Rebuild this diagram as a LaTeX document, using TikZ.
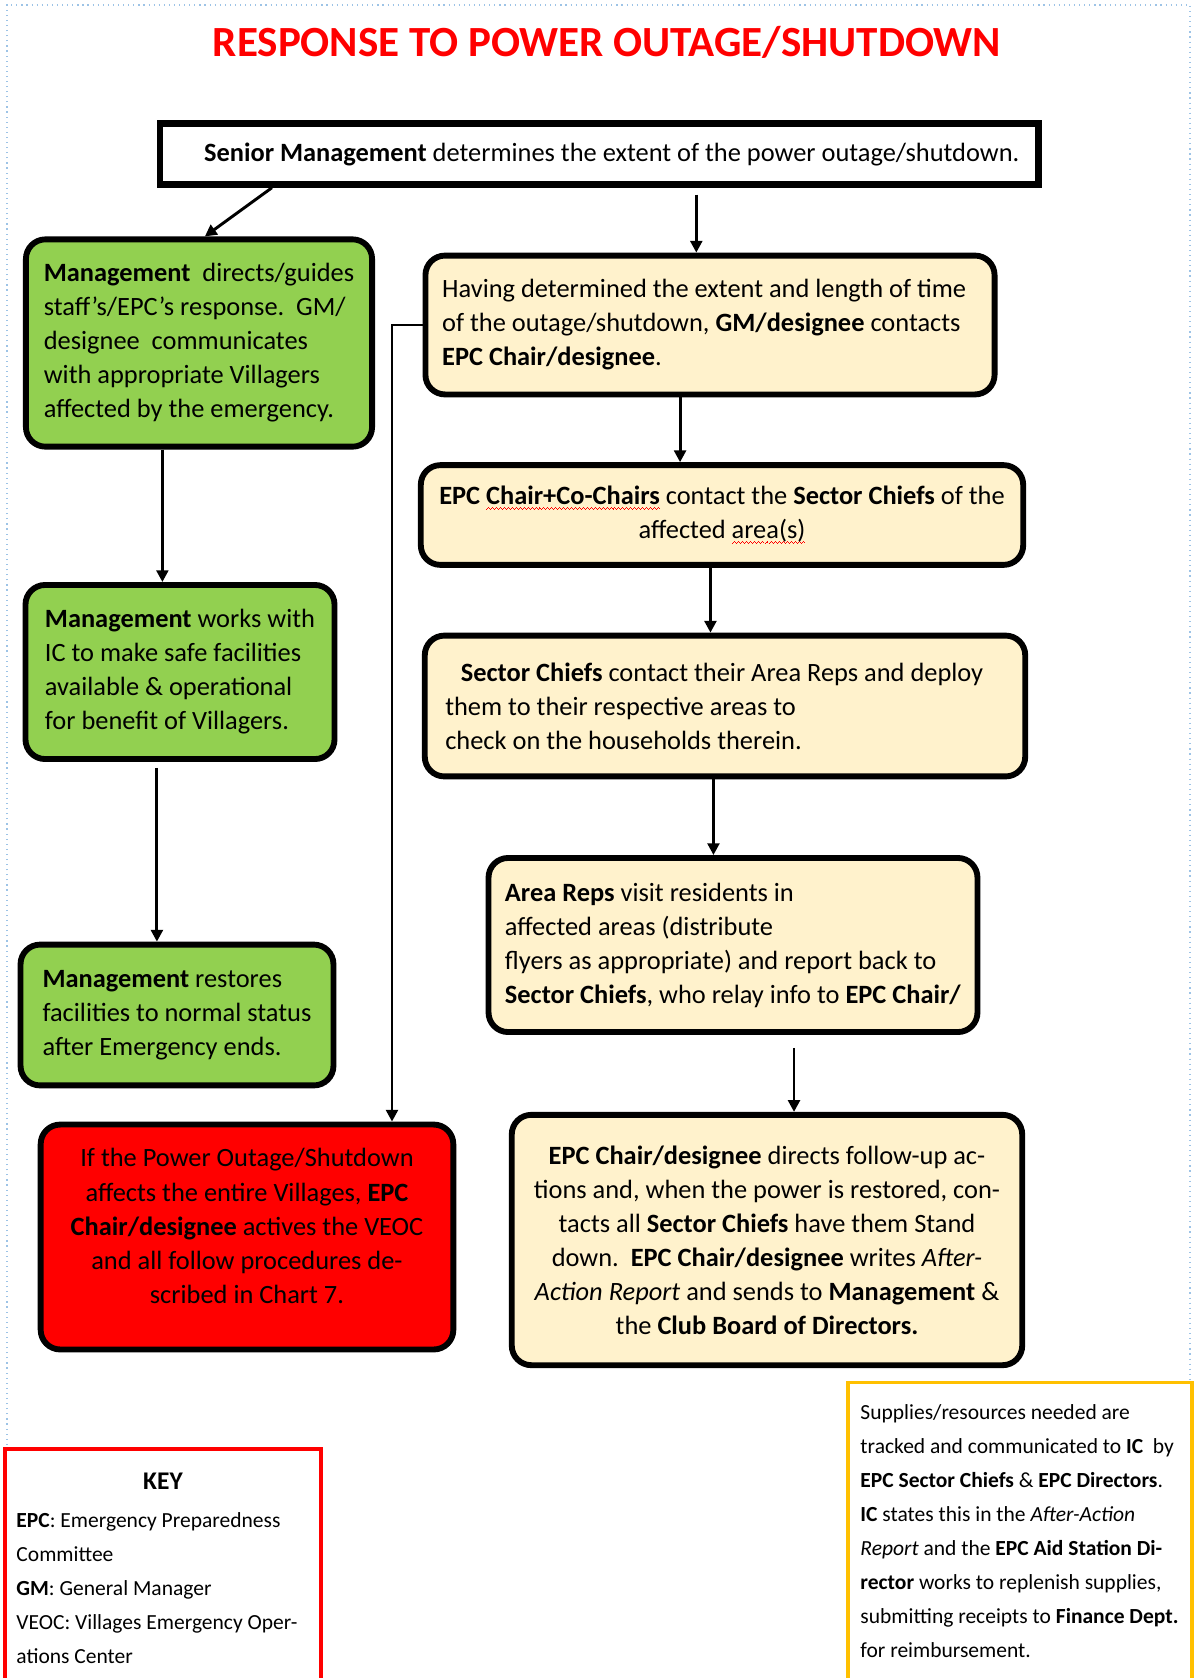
\documentclass[tikz,border=0pt]{standalone}
\usepackage{fontspec}
\setmainfont{Carlito}
\usetikzlibrary{arrows.meta}

\definecolor{mgmtgreen}{HTML}{92D050}
\definecolor{epcyellow}{HTML}{FFF2CC}
\definecolor{alertred}{HTML}{FF0000}
\definecolor{notegold}{HTML}{FFC000}
\definecolor{pageblue}{HTML}{9DC3E6}

% red wavy line of the spell checker
\newcommand{\spellerr}[1]{\setbox0\hbox{#1}\rlap{\color{red}\xleaders\hbox{%
	\rule[-2.6pt]{0.5pt}{0.45pt}\rule[-2.2pt]{0.5pt}{0.45pt}\rule[-1.8pt]{0.5pt}{0.45pt}\rule[-2.2pt]{0.5pt}{0.45pt}}\hskip\wd0}#1}

\tikzset{
	flowbox/.style = {draw, line width=3pt, rounded corners=10pt, inner sep=0pt,
		font=\fontsize{13.5}{17.4}\selectfont},
	greenbox/.style = {flowbox, fill=mgmtgreen, align=left},
	yellowbox/.style = {flowbox, fill=epcyellow},
	notetext/.style = {inner sep=0pt, align=left, font=\fontsize{11}{17.4}\selectfont}
}

\begin{document}
\begin{tikzpicture}[x=0.5113pt, y=-0.5113pt, >={Triangle[length=6pt,width=6pt]}, line width=1.5pt]
	\useasboundingbox (0,0) rectangle (1197,1678);
	\draw[pageblue, line width=0.6pt, dotted] (7,1450) -- (7,5) -- (1190,5) -- (1190,1383);

	\node[font=\fontsize{22}{26}\selectfont\bfseries, text=alertred] (title) at (607,42)
		{RESPONSE TO POWER OUTAGE/SHUTDOWN};

	\node[draw, line width=3.5pt, fill=white, minimum width=449pt, minimum height=31pt,
		font=\fontsize{13.5}{17.4}\selectfont] (senior) at (599,154)
		{\hspace*{13pt}\textbf{Senior Management} determines the extent of the power outage/shutdown.};

	% management column
	\node[greenbox, minimum width=177pt, minimum height=106pt] (mgmtA) at (199,343)
		{\textbf{Management}\ \ directs/guides\\ staff’s/EPC’s response.\ \ GM/\\ designee\ \ communicates\\ with appropriate Villagers\\ affected by the emergency.};
	\node[greenbox, minimum width=158pt, minimum height=89pt] (mgmtB) at (180,672)
		{\textbf{Management} works with\\ IC to make safe facilities\\ available \& operational\\ for benefit of Villagers.};
	\node[greenbox, minimum width=160pt, minimum height=72pt] (mgmtC) at (177,1015)
		{\textbf{Management} restores\\ facilities to normal status\\ after Emergency ends.};
	\node[flowbox, fill=alertred, align=center, minimum width=211pt, minimum height=115pt] (veoc) at (247,1237)
		{If the Power Outage/Shutdown\\ affects the entire Villages, \textbf{EPC}\\ \textbf{Chair/designee} actives the VEOC\\ and all follow procedures de-\\ scribed in Chart 7.\\[-6pt]};

	% EPC column
	\node[yellowbox, align=left, minimum width=291pt, minimum height=71pt] (gmcall) at (710,325)
		{Having determined the extent and length of time\hspace*{6pt}\\ of the outage/shutdown, \textbf{GM/designee} contacts\\ \textbf{EPC Chair/designee}.};
	\node[yellowbox, align=center, minimum width=308pt, minimum height=51pt] (epcchair) at (722,515)
		{\textbf{EPC \spellerr{Chair+Co-Chairs}} contact the \textbf{Sector Chiefs} of the\\ affected \spellerr{area(s)}};
	\node[yellowbox, align=left, minimum width=307pt, minimum height=72pt] (sectors) at (725,706)
		{\hspace*{8pt}\textbf{Sector Chiefs} contact their Area Reps and deploy\hspace*{11pt}\\ them to their respective areas to\\ check on the households therein.};
	\node[yellowbox, align=left, minimum width=250pt, minimum height=89pt] (areareps) at (733,945)
		{\textbf{Area Reps} visit residents in\\ affected areas (distribute\\ flyers as appropriate) and report back to\\ \textbf{Sector Chiefs}, who relay info to \textbf{EPC Chair/}};
	\node[yellowbox, align=center, minimum width=261pt, minimum height=128pt] (followup) at (767,1240)
		{\textbf{EPC Chair/designee} directs follow-up ac-\\ tions and, when the power is restored, con-\\ tacts all \textbf{Sector Chiefs} have them Stand\\ down.\ \ \textbf{EPC Chair/designee} writes \textit{After-}\\ \textit{Action Report} and sends to \textbf{Management} \&\\ the \textbf{Club Board of Directors.}};

	% key and supplies notes
	\node[draw=alertred, line width=2pt, minimum width=162pt, minimum height=124pt] (key) at (163,1570) {};
	\node[font=\fontsize{13}{16}\selectfont\bfseries] (keyhead) at (163,1481) {KEY};
	\node[notetext, anchor=west] (keytext) at (15,1588)
		{\textbf{EPC}: Emergency Preparedness\\ Committee\\ \textbf{GM}: General Manager\\ VEOC: Villages Emergency Oper-\\ ations Center};
	\node[draw=notegold, line width=2pt, minimum width=176pt, minimum height=157pt] (supplies) at (1020,1536) {};
	\node[notetext, anchor=west] (suppliestext) at (859,1531)
		{Supplies/resources needed are\\ tracked and communicated to \textbf{IC}\ \ by\\ \textbf{EPC Sector Chiefs} \& \textbf{EPC Directors}.\\ \textbf{IC} states this in the \textit{After-Action}\\ \textit{Report} and the \textbf{EPC Aid Station Di-}\\ \textbf{rector} works to replenish supplies,\\ submitting receipts to \textbf{Finance Dept.}\\ for reimbursement.};

	% arrows
	\draw[->] ([xshift=59pt]senior.south west) -- ([xshift=3pt]mgmtA.north);
	\draw[->] ([xshift=-7pt,yshift=-3.5pt]senior.south -| gmcall.north) -- ([xshift=-7pt]gmcall.north);
	\draw[->] ([xshift=-9pt]mgmtA.south -| mgmtB.north) -- ([xshift=-9pt]mgmtB.north);
	\draw[->] ([xshift=-11.8pt,yshift=-3pt]mgmtB.south) -- ([xshift=-11.8pt]mgmtB.south |- mgmtC.north);
	\draw[->] ([xshift=-15.3pt]gmcall.south) -- ([xshift=-15.3pt]gmcall.south |- epcchair.north);
	\draw[->] ([xshift=-5.9pt]epcchair.south) -- ([xshift=-5.9pt]epcchair.south |- sectors.north);
	\draw[->] ([xshift=-5.9pt]sectors.south) -- ([xshift=-5.9pt]sectors.south |- areareps.north);
	\draw[->] ([xshift=31.2pt,yshift=-6.6pt]areareps.south) -- ([xshift=31.2pt]areareps.south |- followup.north);
	\coordinate (turn) at (392,325);
	\draw[->] (gmcall.west) -- (turn) -- (turn |- veoc.north);
\end{tikzpicture}
\end{document}
